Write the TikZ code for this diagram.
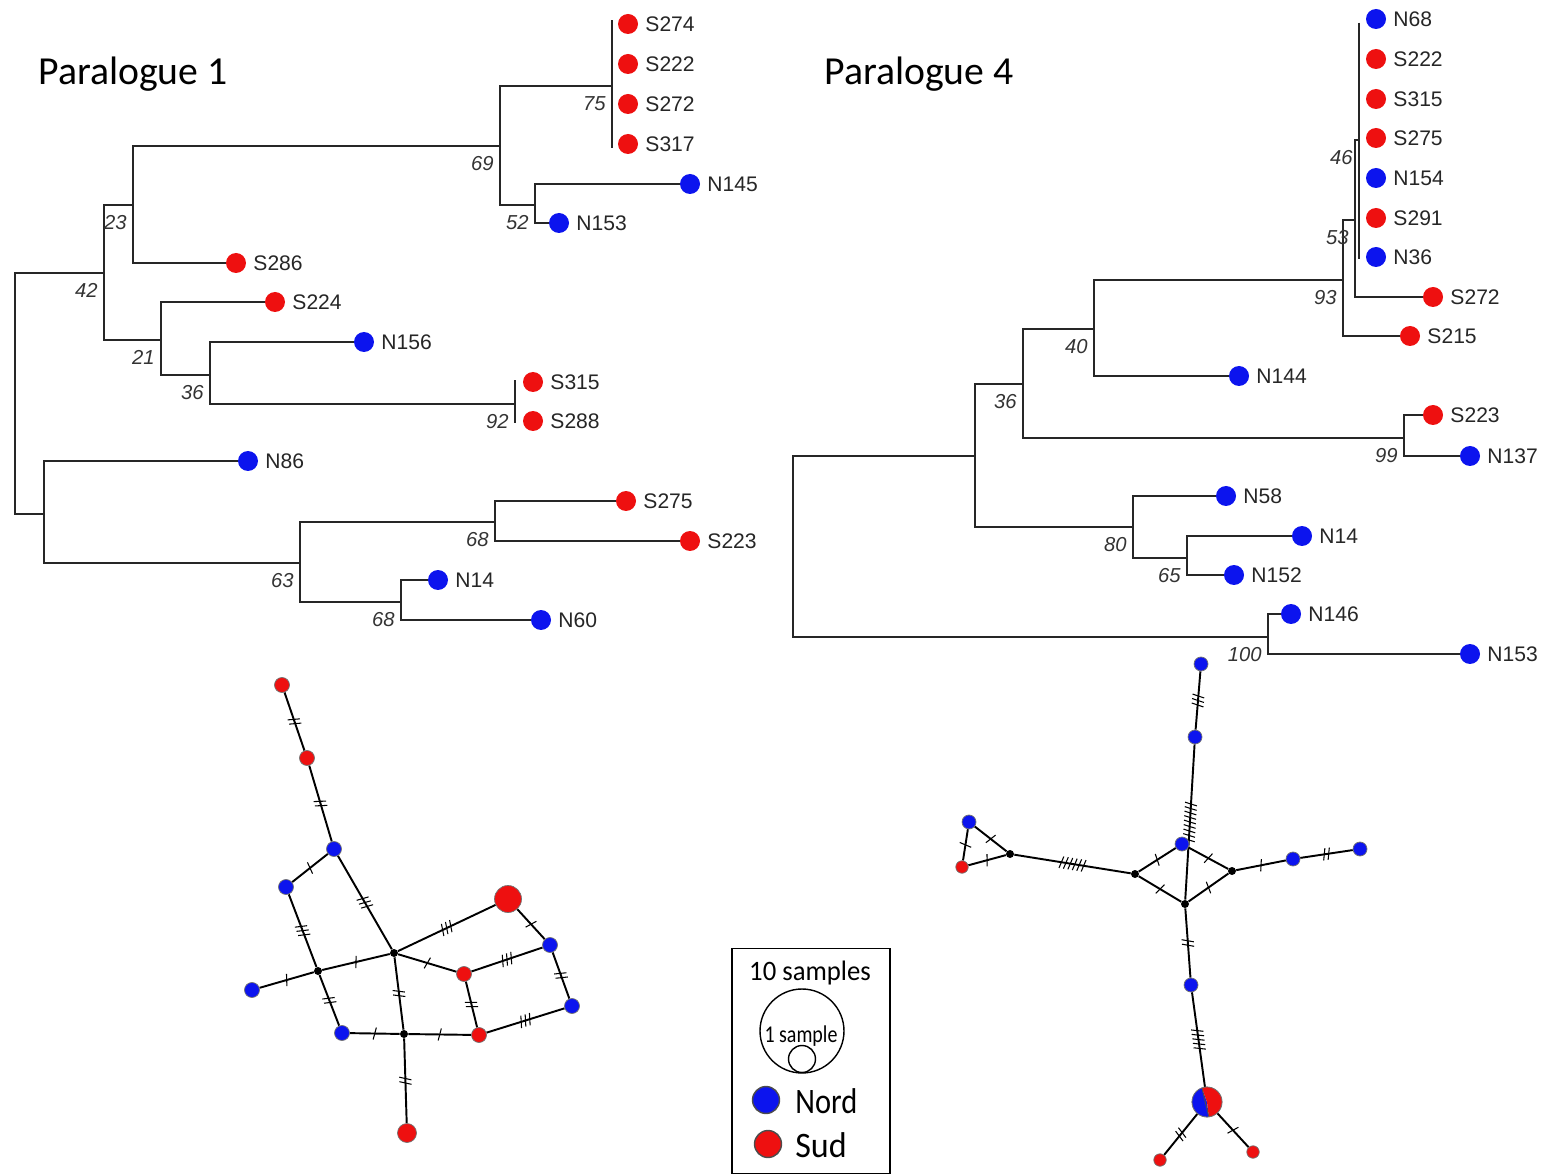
\documentclass[tikz,border=0pt]{standalone}
\usepackage{graphicx}
\usepackage{fontspec}
\setmainfont{Liberation Sans}
\newfontfamily\titlefont{Carlito}
\usetikzlibrary{positioning, decorations.markings, backgrounds}
\definecolor{nordblue}{RGB}{12,20,238}
\definecolor{sudred}{RGB}{238,16,16}

\begin{document}
\begin{tikzpicture}[x=0.02cm, y=-0.02cm,
    branch/.style={line width=0.85pt, black!85},
    dot/.style={circle, inner sep=0pt, minimum size=0.4cm},
    tiplab/.style={font=\fontsize{12}{14}\selectfont, inner sep=1pt, text=black!85},
    bslab/.style={font=\fontsize{11.5}{13}\selectfont\itshape, inner sep=0pt, text=black!80},
    titlelab/.style={font=\titlefont\fontsize{22.6}{26}\selectfont, inner sep=0pt},
    leglab/.style={font=\titlefont, inner sep=0pt},
    hap/.style={circle, draw=black!55, line width=0.4pt, inner sep=0pt, minimum size=0.3cm},
    med/.style={circle, fill=black, inner sep=0pt, minimum size=0.16cm},
    link/.style={line width=1.1pt},
    mut/.style={postaction={decorate, decoration={markings, mark=at position 0.5 with {\foreach \k in {1,...,#1} {\draw[line width=0.6pt] ({(\k-(#1+1)/2)*0.09cm-0.03cm},-0.12cm) -- ({(\k-(#1+1)/2)*0.09cm+0.03cm},0.12cm);}}}}}
  ]
  \useasboundingbox (0,0) rectangle (1549,1175);

  % Titles
  \node[titlelab, anchor=base west] (title1) at (38,85) {Paralogue 1};
  \node[titlelab, anchor=base west] (title4) at (824,85) {Paralogue 4};

  % Paralogue 1 tree: tips
  \foreach \n/\x/\y/\c in {S274/628/24/sudred, S222/628/64/sudred, S272/628/104/sudred, S317/628/144/sudred,
      N145/690/184/nordblue, N153/559/223/nordblue, S286/236/263/sudred, S224/275/302/sudred,
      N156/364/342/nordblue, S315/533/382/sudred, S288/533/421/sudred, N86/248/461/nordblue,
      S275/626/501/sudred, S223/690/541/sudred, N14/438/580/nordblue, N60/541/620/nordblue}
  {
    \node[dot, fill=\c] (a\n) at (\x,\y) {};
    \node[tiplab, right=0.1cm of a\n] (a\n-l) {\n};
  }

  % Paralogue 1 tree: inner nodes
  \coordinate (aroot) at (15,393);
  \coordinate (a42) at (104,273);
  \coordinate (a23) at (133,205);
  \coordinate (a69) at (500,146);
  \coordinate (a75) at (612,86);
  \coordinate (a52) at (535,205);
  \coordinate (a21) at (161,340);
  \coordinate (a36) at (210,375);
  \coordinate (a92) at (515,404);
  \coordinate (aN) at (44,514);
  \coordinate (a63) at (300,563);
  \coordinate (a68u) at (495,522);
  \coordinate (a68l) at (401,602);

  % Paralogue 1 tree: branches
  \foreach \p/\q in {aroot/a42, aroot/aN, a42/a23, a42/a21, a23/a69, a23/aS286.west, a69/a75, a69/a52,
      a52/aN145.west, a52/aN153.west, a21/aS224.west, a21/a36, a36/aN156.west, a36/a92,
      aN/aN86.west, aN/a63, a63/a68u, a63/a68l, a68u/aS275.west, a68u/aS223.west,
      a68l/aN14.west, a68l/aN60.west}
    \draw[branch] (\p) |- (\q);
  \draw[branch] ([yshift=2pt]a75 |- aS274.west) -- ([yshift=-2pt]a75 |- aS317.west);
  \draw[branch] ([yshift=1pt]a92 |- aS315.west) -- ([yshift=-1pt]a92 |- aS288.west);

  \foreach \p/\v in {a42/42, a23/23, a69/69, a75/75, a52/52, a21/21, a36/36, a92/92, a63/63, a68u/68, a68l/68}
    \node[bslab, anchor=east] (\p-bs) at ([xshift=-3.4pt, yshift=-10.2pt]\p) {\v};

  % Paralogue 4 tree: tips
  \foreach \n/\x/\y/\c in {N68/1376/19/nordblue, S222/1376/59/sudred, S315/1376/99/sudred, S275/1376/138/sudred,
      N154/1376/178/nordblue, S291/1376/218/sudred, N36/1376/257/nordblue, S272/1433/297/sudred,
      S215/1410/336/sudred, N144/1239/376/nordblue, S223/1433/415/sudred, N137/1470/456/nordblue,
      N58/1226/496/nordblue, N14/1302/536/nordblue, N152/1234/575/nordblue, N146/1291/614/nordblue,
      N153/1470/654/nordblue}
  {
    \node[dot, fill=\c] (b\n) at (\x,\y) {};
    \node[tiplab, right=0.1cm of b\n] (b\n-l) {\n};
  }

  % Paralogue 4 tree: inner nodes
  \coordinate (broot) at (793,546);
  \coordinate (bA) at (975,456);
  \coordinate (b36) at (1023,384);
  \coordinate (b40) at (1094,329);
  \coordinate (b93) at (1343,280);
  \coordinate (b53) at (1355,220);
  \coordinate (b46) at (1359,140);
  \coordinate (b99) at (1404,438);
  \coordinate (b80) at (1133,527);
  \coordinate (b65) at (1187,558);
  \coordinate (b100) at (1268,637);

  % Paralogue 4 tree: branches
  \foreach \p/\q in {broot/bA, broot/b100, bA/b36, bA/b80, b36/b40, b36/b99, b40/b93, b40/bN144.west,
      b93/b53, b93/bS215.west, b53/b46, b53/bS272.west, b99/bS223.west, b99/bN137.west,
      b80/bN58.west, b80/b65, b65/bN14.west, b65/bN152.west, b100/bN146.west, b100/bN153.west}
    \draw[branch] (\p) |- (\q);
  \draw[branch] ([yshift=-2pt]b46 |- bN68.west) -- ([yshift=-1pt]b46 |- bN36.west);

  \foreach \p/\v in {b36/36, b40/40, b93/93, b53/53, b46/46, b99/99, b80/80, b65/65, b100/100}
    \node[bslab, anchor=east] (\p-bs) at ([xshift=-3.4pt, yshift=-10.2pt]\p) {\v};

  % Paralogue 1 network
  \node[hap, fill=sudred] (hr1) at (282,685) {};
  \node[hap, fill=sudred] (hr2) at (307,758) {};
  \node[hap, fill=nordblue] (hb1) at (334,849) {};
  \node[hap, fill=nordblue] (hb2) at (286,887) {};
  \node[med] (hm1) at (318,971) {};
  \node[hap, fill=nordblue] (hb3) at (252,990) {};
  \node[med] (hm2) at (394,953) {};
  \node[hap, fill=sudred, minimum size=0.54cm] (hR) at (508,899) {};
  \node[hap, fill=nordblue] (hb4) at (550,945) {};
  \node[hap, fill=sudred] (hr3) at (464,974) {};
  \node[hap, fill=nordblue] (hb5) at (572,1006) {};
  \node[hap, fill=nordblue] (hb6) at (342,1033) {};
  \node[med] (hm3) at (404,1034) {};
  \node[hap, fill=sudred] (hr4) at (479,1035) {};
  \node[hap, fill=sudred, minimum size=0.38cm] (hr5) at (407,1133) {};

  % Paralogue 4 network
  \node[hap, fill=nordblue, minimum size=0.28cm] (kt1) at (1201,664) {};
  \node[hap, fill=nordblue, minimum size=0.28cm] (kt2) at (1195,737) {};
  \node[hap, fill=nordblue, minimum size=0.28cm] (kc) at (1182,844) {};
  \node[med] (kml) at (1135,874) {};
  \node[med] (kmb) at (1185,904) {};
  \node[med] (kmr) at (1232,871) {};
  \node[hap, fill=nordblue, minimum size=0.28cm] (ke1) at (1293,859) {};
  \node[hap, fill=nordblue, minimum size=0.28cm] (ke2) at (1360,849) {};
  \node[med] (kw) at (1010,854) {};
  \node[hap, fill=nordblue, minimum size=0.28cm] (kwb) at (969,822) {};
  \node[hap, fill=sudred, minimum size=0.25cm] (kwr) at (962,867) {};
  \node[hap, fill=nordblue, minimum size=0.28cm] (ks1) at (1191,985) {};
  \node[hap, minimum size=0.6cm] (kP) at (1207,1102) {};
  \fill[nordblue] (kP.center) -- ++(110:0.3cm) arc[start angle=110, end angle=277, radius=0.3cm] -- cycle;
  \fill[sudred] (kP.center) -- ++(277:0.3cm) arc[start angle=277, end angle=470, radius=0.3cm] -- cycle;
  \draw[black!70, line width=0.5pt] ([shift={(110:0.3cm)}]kP.center) -- ([shift={(277:0.3cm)}]kP.center);
  \draw[black!55, line width=0.4pt] (kP.center) circle[radius=0.3cm];
  \node[hap, fill=sudred, minimum size=0.25cm] (kpr1) at (1160,1160) {};
  \node[hap, fill=sudred, minimum size=0.25cm] (kpr2) at (1253,1152) {};

  % Mutation links
  \begin{scope}[on background layer]
    \foreach \p/\q/\m in {hr1/hr2/2, hr2/hb1/2, hb1/hb2/1, hb1/hm2/3, hb2/hm1/3, hm1/hb3/1, hm1/hm2/1,
        hm1/hb6/2, hm2/hR/3, hm2/hr3/1, hm2/hm3/2, hR/hb4/1, hr3/hb4/3, hb4/hb5/2, hr3/hr4/2,
        hb6/hm3/1, hm3/hr4/1, hr4/hb5/3, hm3/hr5/2,
        kt1/kt2/3, kt2/kmb/9, kml/kc/1, kc/kmr/1, kml/kmb/1, kmb/kmr/1, kml/kw/6, kw/kwb/1,
        kw/kwr/1, kwb/kwr/1, kmr/ke1/1, ke1/ke2/2, kmb/ks1/2, ks1/kP/5, kP/kpr1/2, kP/kpr2/1}
      \draw[link, mut=\m] (\p) -- (\q);
  \end{scope}

  % Legend
  \node[draw, line width=0.8pt, minimum width=3.16cm, minimum height=4.5cm] (legbox) at (811,1061) {};
  \node[leglab, font=\titlefont\fontsize{16}{18}\selectfont, anchor=base] (leg10) at (810,980) {\scalebox{0.95}[1]{10 samples}};
  \node[circle, draw, line width=0.8pt, minimum size=1.68cm, inner sep=0pt] (legbig) at (802,1031) {};
  \node[circle, draw, line width=0.8pt, minimum size=0.54cm, inner sep=0pt] (legsmall) at (802,1059) {};
  \node[leglab, font=\titlefont\fontsize{13.7}{15}\selectfont, anchor=base] (leg1) at (801,1042) {\scalebox{0.83}[1]{1 sample}};
  \node[circle, draw=black!70, line width=0.8pt, fill=nordblue, minimum size=0.54cm, inner sep=0pt] (legnord) at (766,1100) {};
  \node[circle, draw=black!70, line width=0.8pt, fill=sudred, minimum size=0.54cm, inner sep=0pt] (legsud) at (768,1144) {};
  \node[leglab, font=\titlefont\fontsize{20.4}{24}\selectfont, anchor=base west] (legnordl) at (795,1113) {\scalebox{0.85}[1]{Nord}};
  \node[leglab, font=\titlefont\fontsize{20.4}{24}\selectfont, anchor=base west] (legsudl) at (795,1157) {\scalebox{0.95}[1]{Sud}};
\end{tikzpicture}
\end{document}
